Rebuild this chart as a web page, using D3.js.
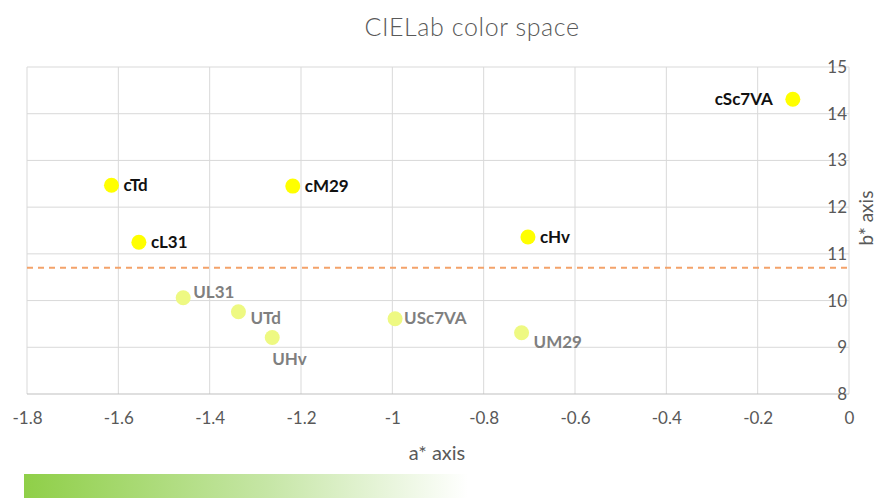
<!DOCTYPE html>
<html>
<head>
<meta charset="utf-8">
<script src="https://cdn.jsdelivr.net/npm/d3@7"></script>
<style>
  body { margin: 0; background: #fff; }
  svg { display: block; font-family: Lato, "Open Sans", sans-serif; }
</style>
</head>
<body>
<div id="chart"></div>
<script>
// samples
const names   = ['cTd', 'cM29', 'cL31', 'cHv', 'cSc7VA', 'UL31', 'UTd', 'UHv', 'USc7VA', 'UM29'];
const aValues = [-1.615, -1.218, -1.555, -0.703, -0.123, -1.458, -1.337, -1.263, -0.994, -0.717];
const bValues = [12.47, 12.45, 11.25, 11.36, 14.31, 10.06, 9.76, 9.21, 9.61, 9.31];
const groups  = ['c', 'c', 'c', 'c', 'c', 'U', 'U', 'U', 'U', 'U'];

const xTicks = [-1.8, -1.6, -1.4, -1.2, -1, -0.8, -0.6, -0.4, -0.2, 0];
const yTicks = [8, 9, 10, 11, 12, 13, 14, 15];
const threshold = 10.7;

const width = 878, height = 498;
const margin = {top: 67, right: 29, bottom: 104, left: 27};

// where each label sits relative to its dot
const labelPos = {
    cTd: [12, 0, 'start'], cM29: [12, 0, 'start'], cL31: [12, 0, 'start'],
    cHv: [12, 0, 'start'], cSc7VA: [-20, 0, 'end'],
    UL31: [10, -6, 'start'], UTd: [12, 6, 'start'], UHv: [0, 22, 'start'],
    USc7VA: [9, -1, 'start'], UM29: [12, 9, 'start']
};

const pts = names.map((n, i) => ({name: n, a: aValues[i], b: bValues[i], g: groups[i]}));

const svg = d3.select('#chart').append('svg')
    .attr('width', width).attr('height', height);

const x = d3.scaleLinear().domain([-1.8, 0]).range([margin.left, width - margin.right]);
const y = d3.scaleLinear().domain([8, 15]).range([height - margin.bottom, margin.top]);

// gradient bar under the chart
let grad = svg.append('defs').append('linearGradient').attr('id', 'greenFade');
grad.append('stop').attr('offset', '0%').attr('stop-color', '#8fcf48');
grad.append('stop').attr('offset', '55%').attr('stop-color', '#c6e6a6');
grad.append('stop').attr('offset', '100%').attr('stop-color', '#ffffff');
svg.append('rect')
    .attr('x', 24).attr('y', 474).attr('width', 444).attr('height', 24)
    .attr('fill', 'url(#greenFade)');

// grid
svg.append('g').selectAll('line.v').data(xTicks).join('line')
    .attr('x1', d => x(d)).attr('x2', d => x(d))
    .attr('y1', y(15)).attr('y2', y(8))
    .attr('stroke', '#d9d9d9').attr('stroke-width', 1);
svg.append('g').selectAll('line.h').data(yTicks).join('line')
    .attr('x1', x(-1.8)).attr('x2', x(0))
    .attr('y1', d => y(d)).attr('y2', d => y(d))
    .attr('stroke', d => d === 8 ? '#bfbfbf' : '#d9d9d9').attr('stroke-width', 1);

// x axis labels (plain hyphen, like the original)
const xAxis = d3.axisBottom(x).tickValues(xTicks).tickSize(0).tickPadding(18)
    .tickFormat(d => String(+d.toFixed(1)));
svg.append('g').attr('transform', `translate(0,${y(8)})`).call(xAxis)
    .call(g => g.select('.domain').remove())
    .selectAll('text').attr('font-size', 17).attr('fill', '#595959')
    .attr('font-family', 'Lato, sans-serif');

// y axis labels, drawn on the right edge over the grid
svg.append('g').selectAll('text').data(yTicks).join('text')
    .attr('x', x(0) - 2).attr('y', d => y(d))
    .attr('dy', '0.35em').attr('text-anchor', 'end')
    .attr('font-size', 17).attr('fill', '#595959')
    .text(d => d);

// threshold line
svg.append('line')
    .attr('x1', x(-1.8)).attr('x2', x(0))
    .attr('y1', y(threshold)).attr('y2', y(threshold))
    .attr('stroke', '#f4a26a').attr('stroke-width', 2)
    .attr('stroke-dasharray', '6,5');

// points
svg.append('g').selectAll('circle').data(pts).join('circle')
    .attr('cx', d => x(d.a)).attr('cy', d => y(d.b)).attr('r', 7.5)
    .attr('fill', d => d.g === 'c' ? '#ffff00' : '#eef982');

svg.append('g').selectAll('text').data(pts).join('text')
    .attr('x', d => x(d.a) + labelPos[d.name][0])
    .attr('y', d => y(d.b) + labelPos[d.name][1])
    .attr('dy', '0.35em')
    .attr('text-anchor', d => labelPos[d.name][2])
    .attr('font-size', 17).attr('font-weight', 'bold')
    .attr('fill', d => d.g === 'c' ? '#111111' : '#7f7f7f')
    .text(d => d.name);

// titles
svg.append('text').attr('x', 472).attr('y', 27).attr('dy', '0.35em')
    .attr('text-anchor', 'middle').attr('font-size', 25).attr('font-weight', 300)
    .attr('letter-spacing', 0.6).attr('fill', '#595959')
    .text('CIELab color space');
svg.append('text').attr('x', 437).attr('y', 453).attr('dy', '0.35em')
    .attr('text-anchor', 'middle').attr('font-size', 20).attr('fill', '#595959')
    .text('a* axis');
svg.append('text')
    .attr('transform', 'translate(866,218) rotate(-90)').attr('dy', '0.35em')
    .attr('text-anchor', 'middle').attr('font-size', 19).attr('fill', '#595959')
    .text('b* axis');
</script>
</body>
</html>
